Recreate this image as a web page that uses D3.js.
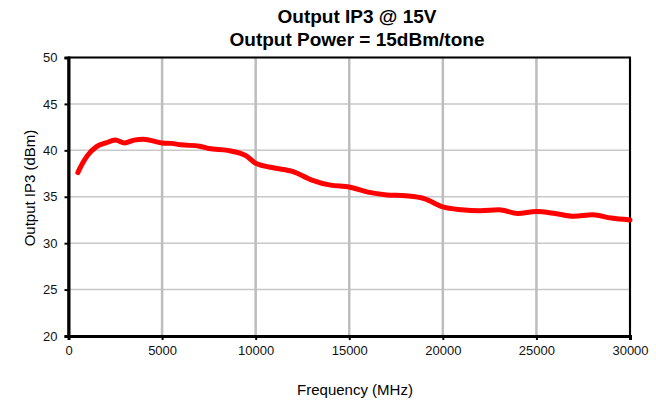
<!DOCTYPE html>
<html>
<head>
<meta charset="utf-8">
<script src="https://cdn.jsdelivr.net/npm/d3@7"></script>
<style>
  body { margin: 0; background: #fff; }
  text { font-family: "Liberation Sans", Arial, sans-serif; }
</style>
</head>
<body>
<div id="vis"></div>
<script>
const freq = [500, 750, 1000, 1500, 2000, 2500, 3000, 3500, 4000, 5000, 5500, 6000, 7000, 7500, 8500, 9500,
  10000, 11000, 12000, 13000, 14000, 15000, 16000, 17000, 18000, 19000, 20000, 21000, 22000, 23000,
  24000, 25000, 26000, 27000, 28000, 29000, 30000];
const ip3 = [37.6, 38.6, 39.4, 40.4, 40.8, 41.1, 40.8, 41.1, 41.2, 40.8, 40.75, 40.6, 40.45, 40.2, 40.0, 39.4,
  38.6, 38.1, 37.7, 36.8, 36.25, 36.05, 35.5, 35.2, 35.1, 34.8, 33.9, 33.6, 33.5, 33.6,
  33.2, 33.4, 33.2, 32.9, 33.05, 32.7, 32.5];
const xTicks = [0, 5000, 10000, 15000, 20000, 25000, 30000];
const yTicks = [20, 25, 30, 35, 40, 45, 50];

const width = 656;
const height = 402;
const margin = { top: 57.5, right: 26, bottom: 66, left: 68.5 };

const x = d3.scaleLinear()
    .domain([0, 30000])
    .range([margin.left, width - margin.right]);

const y = d3.scaleLinear()
    .domain([20, 50])
    .range([height - margin.bottom, margin.top]);

const svg = d3.select('#vis')
    .append('svg')
    .attr('width', width)
    .attr('height', height);

// horizontal grid
svg.append('g')
    .selectAll('line')
    .data(yTicks)
    .join('line')
    .attr('x1', margin.left)
    .attr('x2', width - margin.right)
    .attr('y1', d => y(d))
    .attr('y2', d => y(d))
    .attr('stroke', '#c8c8c8')
    .attr('stroke-width', 1.5);

// vertical grid
svg.append('g')
    .selectAll('line')
    .data(xTicks)
    .join('line')
    .attr('x1', d => x(d))
    .attr('x2', d => x(d))
    .attr('y1', margin.top)
    .attr('y2', height - margin.bottom)
    .attr('stroke', '#bdbdbd')
    .attr('stroke-width', 2.5);

// frame
svg.append('rect')
    .attr('x', margin.left)
    .attr('y', margin.top)
    .attr('width', width - margin.right - margin.left)
    .attr('height', height - margin.bottom - margin.top)
    .attr('fill', 'none')
    .attr('stroke', 'black')
    .attr('stroke-width', 2);

const xAxis = svg.append('g')
    .attr('transform', `translate(0, ${height - margin.bottom})`)
    .call(d3.axisBottom(x).tickValues(xTicks).tickSize(4).tickPadding(6).tickFormat(d3.format('d')));

const yAxis = svg.append('g')
    .attr('transform', `translate(${margin.left}, 0)`)
    .call(d3.axisLeft(y).tickValues(yTicks).tickSize(4).tickPadding(7));

[xAxis, yAxis].forEach(a => {
    a.select('.domain').attr('stroke', 'black').attr('stroke-width', 3);
    a.selectAll('.tick line').attr('stroke', 'black').attr('stroke-width', 2);
    a.selectAll('.tick text')
        .attr('fill', '#111')
        .attr('font-size', '13px')
        .attr('font-family', '"Liberation Sans", Arial, sans-serif');
});

const line = d3.line()
    .x((d, i) => x(freq[i]))
    .y(d => y(d))
    .curve(d3.curveMonotoneX);

svg.append('path')
    .datum(ip3)
    .attr('fill', 'none')
    .attr('stroke', '#ff0000')
    .attr('stroke-width', 5)
    .attr('stroke-linejoin', 'round')
    .attr('stroke-linecap', 'round')
    .attr('d', line);

// titles
svg.append('text')
    .attr('x', 357)
    .attr('y', 23)
    .attr('text-anchor', 'middle')
    .attr('font-size', '19px')
    .attr('font-weight', 'bold')
    .text('Output IP3 @ 15V');

svg.append('text')
    .attr('x', 357)
    .attr('y', 45.5)
    .attr('text-anchor', 'middle')
    .attr('font-size', '19px')
    .attr('font-weight', 'bold')
    .text('Output Power = 15dBm/tone');

svg.append('text')
    .attr('x', 355)
    .attr('y', 395)
    .attr('text-anchor', 'middle')
    .attr('font-size', '15px')
    .text('Frequency (MHz)');

svg.append('text')
    .attr('transform', `translate(35, 188) rotate(-90)`)
    .attr('text-anchor', 'middle')
    .attr('font-size', '15px')
    .text('Output IP3 (dBm)');
</script>
</body>
</html>
